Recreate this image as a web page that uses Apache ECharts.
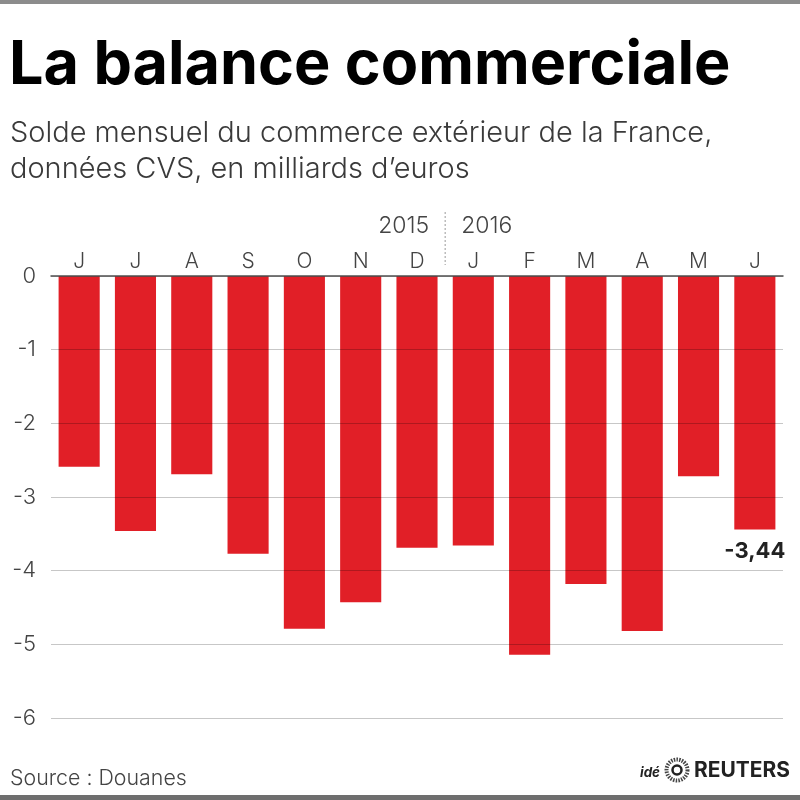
<!DOCTYPE html>
<html><head><meta charset="utf-8">
<script src="https://cdn.jsdelivr.net/npm/echarts@6/dist/echarts.min.js"></script>
<style>html,body{margin:0;padding:0;background:#fff}#c{width:800px;height:800px}</style>
</head><body><div id="c"></div>
<script>
const months = ['J','J','A','S','O','N','D','J','F','M','A','M','J'];
const values = [-2.59,-3.46,-2.69,-3.77,-4.79,-4.43,-3.69,-3.66,-5.14,-4.18,-4.82,-2.72,-3.44];
const yearLabels = ['2015','2016'];
const yearBreakAfter = 6; // index of last 2015 month
const yMin = -6, yMax = 0, yInterval = 1;
const lastValueText = '-3,44';
const titleText = 'La balance commerciale';
const subtitleLines = ['Solde mensuel du commerce extérieur de la France,', 'données CVS, en milliards d\u2019euros'];
const sourceText = 'Source : Douanes';

// ---- font measuring helpers ----
const cv = document.createElement('canvas'); const ctx = cv.getContext('2d');
function meas(font, text){
  ctx.font = font; ctx.textBaseline = 'middle';
  const h = ctx.measureText('H');
  return {w: ctx.measureText(text).width, cap: h.actualBoundingBoxAscent + h.actualBoundingBoxDescent, desc: h.actualBoundingBoxDescent};
}
function pick(style, weight, families, text, targetW, targetCap){
  let best = null;
  families.forEach(f => {
    const m = meas(style+' '+weight+' 100px '+f, text);
    const err = Math.abs(Math.log((m.w/m.cap)/(targetW/targetCap)));
    if (!best || err < best.err) best = {f, err, m};
  });
  const sW = targetW / best.m.w * 100, sC = targetCap / best.m.cap * 100;
  const size = 0.65*sW + 0.35*sC;
  return {family: best.f, size, desc: best.m.desc*size/100, cap: best.m.cap*size/100,
          font: style+' '+weight+' '+size.toFixed(2)+'px '+best.f};
}
function metricsAt(style, weight, family, size){
  const m = meas(style+' '+weight+' 100px '+family, 'H');
  return {desc: m.desc*size/100, cap: m.cap*size/100, font: style+' '+weight+' '+size+'px '+family};
}
function fitW(style, weight, family, text, targetW){
  const m = meas(style+' '+weight+' 100px '+family, text);
  return metricsAt(style, weight, family, +(targetW/m.w*100).toFixed(2));
}

const boldFams = ['Inter','Roboto','"Open Sans"','"Noto Sans"','Lato','"Liberation Sans"','"DejaVu Sans"'];
const lightFams = ['"Open Sans"','Lato','"Noto Sans"','Roboto','Inter'];
const T = pick('normal', 700, boldFams, titleText, 718, 45);
const S = pick('normal', 300, lightFams, subtitleLines[0], 705, 21);
const LF = S.family; // family for the light texts
const src = fitW('normal', 300, LF, sourceText, 177);
const yr = metricsAt('normal', 300, LF, 23);
const mon = metricsAt('normal', 300, LF, 21);
const ylab = metricsAt('normal', 300, LF, 22);
const val = metricsAt('normal', 700, LF, 22);
const rtr = fitW('normal', 700, LF, 'REUTERS', 96);
const ide = fitW('italic', 700, LF, 'idé', 20);

const axisY = 276;
const monthMargin = axisY - 268 - 21/2 + mon.desc;  // baseline at ~268
const yShift = 4.5 - (ylab.desc - ylab.cap/2);
const valDist = 558 - 529.5 - 22/2 - val.desc;

const chart = echarts.init(document.getElementById('c'), null, {renderer:'canvas'});

const data = values.map((v,i)=> i===values.length-1 ? {
  value: v,
  label: {show:true, position:'bottom', distance: valDist, formatter: lastValueText,
          fontFamily: LF.replace(/"/g,''), fontWeight: 'bold', fontSize: 22, lineHeight:22, color:'#222'}
} : v);

chart.setOption({
  animation:false,
  backgroundColor:'#fff',
  grid:{left:51,right:17,top:276,bottom:82},
  xAxis:{type:'category', position:'top', data:months, z:4,
    axisTick:{show:false},
    axisLine:{show:true, lineStyle:{color:'#505050', width:1.5}},
    axisLabel:{color:'#444', fontFamily:LF.replace(/"/g,''), fontSize:21, lineHeight:21, fontWeight:300, margin: monthMargin}
  },
  yAxis:{type:'value', min:yMin, max:yMax, interval:yInterval, z:3,
    axisLine:{show:false}, axisTick:{show:false},
    axisLabel:{color:'#444', fontFamily:LF.replace(/"/g,''), fontSize:22, lineHeight:22, fontWeight:300, margin:15,
      verticalAlign:'middle', padding: yShift>0 ? [2*yShift,0,0,0] : [0,0,-2*yShift,0]},
    splitLine:{lineStyle:{color:'rgba(0,0,0,0.22)', width:1}}
  },
  series:[{type:'bar', data:data, barCategoryGap:'27%',
    itemStyle:{color:'#e11f27'}}]
});

const xa = chart.convertToPixel({xAxisIndex:0}, yearBreakAfter);
const xb = chart.convertToPixel({xAxisIndex:0}, yearBreakAfter+1);
const xBreak = (xa+xb)/2;

function txt(x, baseline, text, m, fill, align){
  return {type:'text', x:x, y: baseline - m.desc,
    style:{text:text, font:m.font, fill:fill, textAlign:align||'left', textVerticalAlign:'middle'}};
}

chart.setOption({
  graphic:[
    {type:'rect', shape:{x:0,y:0,width:800,height:4}, style:{fill:'#8c8c8c'}},
    {type:'rect', shape:{x:0,y:795,width:800,height:5}, style:{fill:'#6e6e6e'}},
    txt(9, 84, titleText, T, '#000'),
    txt(10, 142, subtitleLines[0], S, '#3a3a3a'),
    txt(10, 178, subtitleLines[1], S, '#3a3a3a'),
    {type:'line', shape:{x1:xBreak,y1:212,x2:xBreak,y2:265}, style:{stroke:'#9a9a9a', lineWidth:1, lineDash:[2,2]}},
    txt(xBreak-16, 233, yearLabels[0], yr, '#444', 'right'),
    txt(xBreak+16, 233, yearLabels[1], yr, '#444', 'left'),
    txt(10, 785, sourceText, src, '#444'),
    txt(640, 777, 'idé', ide, '#222'),
    {type:'circle', shape:{cx:677, cy:770, r:10.5}, style:{fill:'none', stroke:'#444', lineWidth:4, lineDash:[1.5,1.2]}},
    {type:'circle', shape:{cx:677, cy:770, r:4.5}, style:{fill:'none', stroke:'#222', lineWidth:2.5}},
    txt(694, 777, 'REUTERS', rtr, '#222')
  ]
});
</script></body></html>
